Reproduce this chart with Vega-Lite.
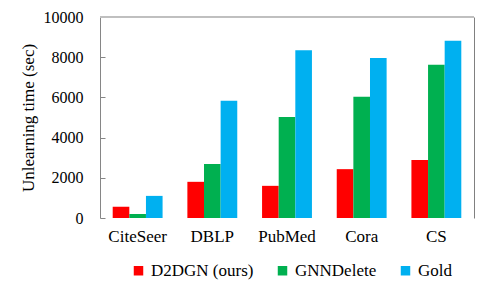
{
  "$schema": "https://vega.github.io/schema/vega-lite/v6.json",
  "autosize": {"type": "none"},
  "width": 374,
  "height": 201,
  "padding": {"left": 100, "top": 17, "right": 16, "bottom": 76},
  "background": "white",
  "config": {
    "view": {"stroke": null},
    "font": "Liberation Serif",
    "axis": {"labelFont": "Liberation Serif", "titleFont": "Liberation Serif"},
    "legend": {"labelFont": "Liberation Serif", "titleFont": "Liberation Serif"},
    "text": {"font": "Liberation Serif"}
  },
  "data": {
    "values": [
      {"dataset": "CiteSeer", "method": "D2DGN (ours)", "time": 560},
      {"dataset": "CiteSeer", "method": "GNNDelete", "time": 200},
      {"dataset": "CiteSeer", "method": "Gold", "time": 1100},
      {"dataset": "DBLP", "method": "D2DGN (ours)", "time": 1800},
      {"dataset": "DBLP", "method": "GNNDelete", "time": 2690},
      {"dataset": "DBLP", "method": "Gold", "time": 5830},
      {"dataset": "PubMed", "method": "D2DGN (ours)", "time": 1600},
      {"dataset": "PubMed", "method": "GNNDelete", "time": 5030},
      {"dataset": "PubMed", "method": "Gold", "time": 8350},
      {"dataset": "Cora", "method": "D2DGN (ours)", "time": 2430},
      {"dataset": "Cora", "method": "GNNDelete", "time": 6030},
      {"dataset": "Cora", "method": "Gold", "time": 7960},
      {"dataset": "CS", "method": "D2DGN (ours)", "time": 2890},
      {"dataset": "CS", "method": "GNNDelete", "time": 7620},
      {"dataset": "CS", "method": "Gold", "time": 8820}
    ]
  },
  "layer": [
    {
      "mark": {"type": "bar"},
      "encoding": {
        "x": {
          "field": "dataset",
          "type": "nominal",
          "sort": ["CiteSeer", "DBLP", "PubMed", "Cora", "CS"],
          "scale": {"paddingInner": 0.332, "paddingOuter": 0.17},
          "axis": {
            "title": null,
            "labelAngle": 0,
            "domain": false,
            "ticks": false,
            "labelFont": "Liberation Serif",
            "labelFontSize": 17,
            "labelColor": "black",
            "labelPadding": 10
          }
        },
        "xOffset": {
          "field": "method",
          "type": "nominal",
          "sort": ["D2DGN (ours)", "GNNDelete", "Gold"],
          "scale": {"paddingInner": 0, "paddingOuter": 0}
        },
        "y": {
          "field": "time",
          "type": "quantitative",
          "scale": {"domain": [0, 10000], "nice": false},
          "axis": {
            "title": "Unlearning time (sec)",
            "titleFont": "Liberation Serif",
            "titleFontSize": 17,
            "titleFontWeight": "normal",
            "titleColor": "black",
            "titlePadding": 6,
            "values": [0, 2000, 4000, 6000, 8000, 10000],
            "format": "d",
            "grid": false,
            "domainColor": "#868686",
            "tickColor": "#868686",
            "tickSize": -5,
            "labelFont": "Liberation Serif",
            "labelFontSize": 16,
            "labelColor": "black",
            "labelPadding": 22
          }
        },
        "color": {
          "field": "method",
          "type": "nominal",
          "sort": ["D2DGN (ours)", "GNNDelete", "Gold"],
          "scale": {
            "domain": ["D2DGN (ours)", "GNNDelete", "Gold"],
            "range": ["#FF0000", "#00B050", "#00B0F0"]
          },
          "legend": {
            "title": null,
            "orient": "none",
            "direction": "horizontal",
            "legendX": 30,
            "legendY": 245,
            "symbolType": "square",
            "symbolSize": 90,
            "symbolStrokeWidth": 0,
            "labelFont": "Liberation Serif",
            "labelFontSize": 17,
            "labelColor": "black",
            "labelOffset": 4,
            "columnPadding": 20
          }
        }
      }
    },
    {
      "mark": {"type": "rule", "color": "#bfbfbf", "strokeWidth": 1},
      "encoding": {
        "y": {
          "datum": 10000,
          "type": "quantitative",
          "axis": {
            "orient": "right",
            "title": null,
            "labels": false,
            "ticks": false,
            "grid": false,
            "domainColor": "#808080"
          }
        }
      }
    }
  ],
  "resolve": {"scale": {"y": "shared"}, "axis": {"y": "independent"}}
}
